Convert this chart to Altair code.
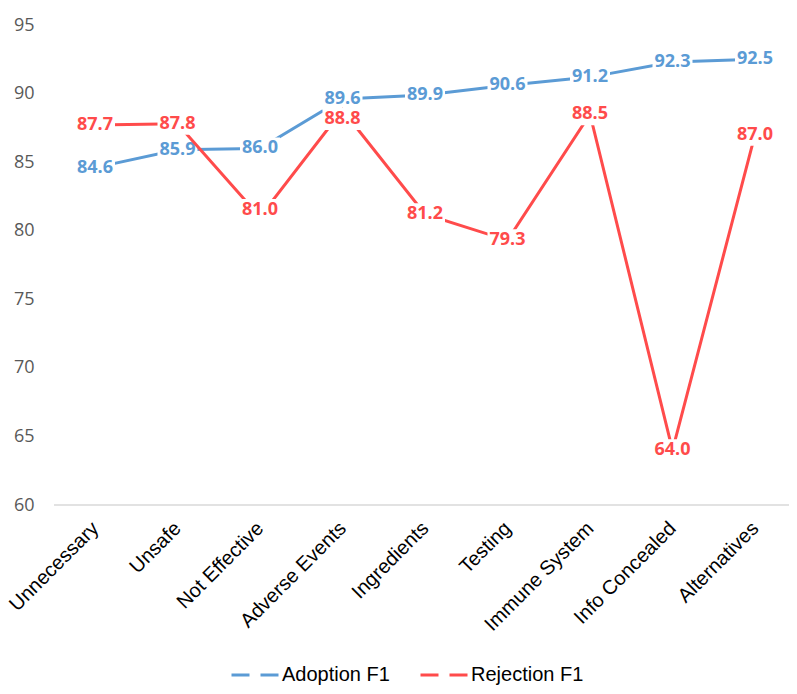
import altair as alt
import pandas as pd

categories = ["Unnecessary", "Unsafe", "Not Effective", "Adverse Events", "Ingredients",
              "Testing", "Immune System", "Info Concealed", "Alternatives"]
adoption = [84.6, 85.9, 86.0, 89.6, 89.9, 90.6, 91.2, 92.3, 92.5]
rejection = [87.7, 87.8, 81.0, 88.8, 81.2, 79.3, 88.5, 64.0, 87.0]
series_names = ["Adoption F1", "Rejection F1"]
series_colors = ["#5B9BD5", "#FF4B4B"]
y_ticks = [60, 65, 70, 75, 80, 85, 90, 95]

rows = []
for c, a, r in zip(categories, adoption, rejection):
    rows.append({"category": c, "series": series_names[0], "value": a})
    rows.append({"category": c, "series": series_names[1], "value": r})
df = pd.DataFrame(rows)

W, H = 735, 480
PX_PER_UNIT = H / 35.0

# label nudges (pixels, down positive) for the two labels the original moved off their point
label_y_expr = ("datum.value - (datum.series == 'Rejection F1' && datum.category == 'Not Effective' ? -7 : "
                "datum.series == 'Rejection F1' && datum.category == 'Adverse Events' ? 9 : 0) / "
                + str(PX_PER_UNIT))

x_enc = alt.X("category:N", sort=categories, title=None,
              scale=alt.Scale(range=[41, 701], padding=0),
              axis=alt.Axis(labelAngle=-45, labelAlign="right", labelBaseline="middle",
                            labelFont="Liberation Sans", labelFontSize=20, labelColor="#000000",
                            labelPadding=20, ticks=False, domain=False, grid=False))
y_scale = alt.Scale(domain=[60, 95], nice=False, zero=False)
y_axis = alt.Axis(values=y_ticks, labelFont="Open Sans", labelFontSize=18,
                  labelColor="#595959", labelPadding=20, ticks=False,
                  domain=False, grid=False, title=None)
y_enc = alt.Y("value:Q", title=None, scale=y_scale, axis=y_axis)
y_lab = alt.Y("ly:Q", title=None, scale=y_scale, axis=y_axis)
color_enc = alt.Color("series:N", scale=alt.Scale(domain=series_names, range=series_colors),
                      legend=alt.Legend(title=None, orient="none", legendX=176, legendY=625,
                                        direction="horizontal", symbolType="stroke",
                                        symbolSize=2209, symbolStrokeWidth=3,
                                        symbolDash=[18, 11], labelFont="Liberation Sans",
                                        labelFontSize=20, labelColor="#000000",
                                        labelOffset=2, columnPadding=24))
color_nolegend = alt.Color("series:N", scale=alt.Scale(domain=series_names, range=series_colors),
                           legend=None)

base = alt.Chart(df)

baseline = alt.Chart(pd.DataFrame({"v": [0]})).mark_rule(color="#D9D9D9", strokeWidth=1.5).encode(
    x=alt.value(0), x2=alt.value(W), y=alt.value(H))

box_shape = "M-1,-0.55L1,-0.55L1,0.55L-1,0.55Z"

layers = []
for s in series_names:
    sub = base.transform_filter(alt.datum.series == s)
    line = sub.mark_line(strokeWidth=3).encode(x=x_enc, y=y_enc, color=color_enc)
    lab = sub.transform_calculate(ly=label_y_expr)
    box = lab.mark_point(shape=box_shape, filled=True, fill="white", opacity=1,
                         strokeWidth=0, size=1600).encode(x=x_enc, y=y_lab)
    txt = lab.mark_text(font="Open Sans", fontWeight="bold", fontSize=18,
                        align="center", baseline="middle").encode(
        x=x_enc, y=y_lab, text=alt.Text("value:Q", format=".1f"), color=color_nolegend)
    layers += [line, box, txt]
layers.append(baseline)

chart = alt.layer(*layers).properties(
    width=W, height=H,
    background="white",
    autosize=alt.AutoSizeParams(type="none"),
    padding={"left": 46, "top": 17, "right": 0, "bottom": 180},
).configure_view(strokeWidth=0, stroke="transparent")

chart.save("out.html", embed_options={"renderer": "svg", "actions": False})
